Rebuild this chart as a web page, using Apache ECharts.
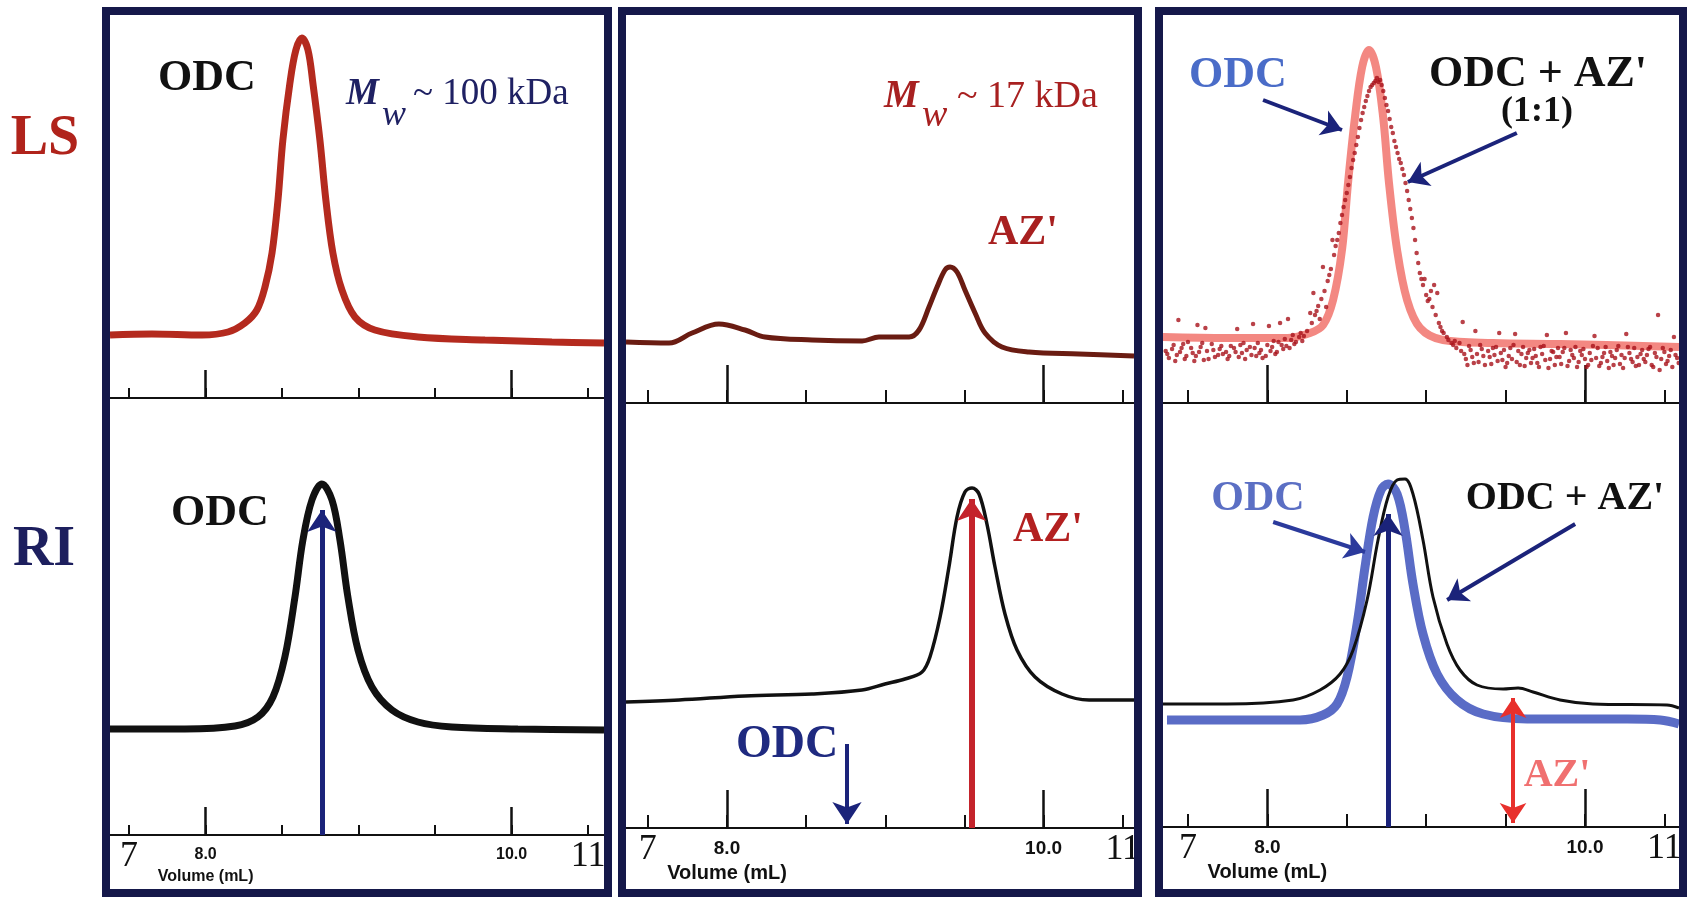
<!DOCTYPE html>
<html>
<head>
<meta charset="utf-8">
<script src="https://cdn.jsdelivr.net/npm/echarts@6/dist/echarts.min.js"></script>
<style>
html, body { margin: 0; padding: 0; background: #fff; }
#chart { width: 1687px; height: 897px; }
</style>
</head>
<body>
<div id="chart"></div>
<script>
// ---- data: elution volume (mL) vs detector signal (arb. units) ----
var ls1 = [[7.375,63],[7.649,64],[7.976,63],[8.146,66],[8.257,75],[8.335,88],[8.388,111],[8.434,145],[8.473,198],[8.505,258],[8.551,315],[8.590,348],[8.629,360],[8.669,348],[8.701,315],[8.747,258],[8.786,198],[8.832,145],[8.891,108],[8.976,81],[9.106,68],[9.388,61],[9.826,58],[10.264,56],[10.604,55]];
var ri1 = [[7.375,106],[7.865,106],[8.192,109],[8.342,118],[8.440,138],[8.518,178],[8.584,238],[8.636,295],[8.695,335],[8.760,351],[8.826,335],[8.878,295],[8.930,238],[8.996,185],[9.087,148],[9.218,125],[9.388,113],[9.610,108],[10.041,106],[10.604,105]];

var ls2 = [[7.362,61],[7.634,60],[7.779,70],[7.949,79],[8.114,73],[8.240,66],[8.537,63],[8.853,62],[8.960,66],[9.150,66],[9.213,73],[9.276,96],[9.327,116],[9.377,133],[9.409,136],[9.453,131],[9.503,113],[9.567,90],[9.630,70],[9.737,56],[9.908,51],[10.224,49],[10.571,47]];
var ri2 = [[7.362,126],[7.697,128],[8.114,132],[8.537,134],[8.853,138],[8.998,144],[9.124,149],[9.232,156],[9.282,171],[9.346,211],[9.402,261],[9.453,311],[9.503,336],[9.548,340],[9.592,334],[9.642,304],[9.693,261],[9.756,214],[9.832,178],[9.946,151],[10.116,134],[10.287,128],[10.571,128]];

var ls3odc = [[7.343,66],[7.746,65],[8.124,65],[8.269,70],[8.351,78],[8.414,103],[8.470,153],[8.508,220],[8.552,286],[8.597,336],[8.640,353],[8.684,336],[8.729,286],[8.766,220],[8.817,153],[8.880,103],[8.962,75],[9.106,63],[9.421,60],[9.843,59],[10.592,56]];
var ls3mix = [
  [7.36,52],[7.38,45],[7.41,58],[7.43,48],[7.44,83],[7.46,55],[7.48,44],[7.50,61],[7.53,50],[7.55,47],[7.56,78],[7.58,56],[7.60,43],[7.61,75],[7.62,52],[7.65,59],[7.67,46],[7.70,54],[7.72,49],[7.75,44],[7.77,57],[7.80,51],[7.81,74],[7.82,46],[7.85,60],[7.87,53],[7.90,48],[7.91,79],[7.92,55],[7.95,50],[7.97,45],[8.00,58],[8.01,77],[8.02,52],[8.05,49],[8.07,61],[8.08,80],[8.10,54],[8.12,57],[8.13,84],[8.15,63],[8.17,59],[8.20,66],[8.22,62],
  [7.37,49],[7.40,54],[7.42,42],[7.45,51],[7.47,59],[7.49,47],[7.52,55],[7.54,42],[7.57,51],[7.59,60],[7.63,44],[7.66,53],[7.69,48],[7.71,57],[7.74,51],[7.76,47],[7.79,55],[7.83,58],[7.84,50],[7.86,44],[7.89,56],[7.93,47],[7.94,60],[7.96,53],[7.99,47],[8.03,56],[8.04,62],[8.06,51],[8.09,58],[8.11,64],[8.14,55],[8.16,68],[8.18,61],[8.21,70],[8.23,67],
  [8.25,72],[8.27,90],[8.28,80],[8.29,110],[8.30,88],[8.31,92],[8.32,97],[8.33,84],[8.34,104],[8.35,136],[8.36,112],[8.37,96],[8.38,122],[8.39,128],[8.40,134],[8.41,163],[8.42,148],[8.43,157],[8.44,163],[8.45,170],[8.46,180],[8.47,188],[8.48,196],[8.49,203],[8.50,210],[8.51,218],[8.52,226],[8.53,235],[8.54,243],[8.55,250],[8.56,258],[8.57,266],[8.58,275],[8.59,283],[8.60,290],[8.61,296],[8.62,302],[8.63,307],[8.64,312],[8.65,316],[8.66,318],[8.67,320],[8.68,322],[8.69,325],[8.70,321],[8.71,323],
  [8.72,318],[8.73,312],[8.74,305],[8.75,298],[8.76,292],[8.77,284],[8.78,276],[8.79,270],[8.80,262],[8.81,256],[8.82,250],[8.83,244],[8.84,240],[8.85,234],[8.86,228],[8.87,220],[8.88,212],[8.89,203],[8.90,194],[8.91,185],[8.92,175],[8.93,163],[8.94,150],[8.95,140],[8.96,130],[8.97,124],[8.98,118],[8.99,124],[9.00,108],[9.01,102],[9.02,104],[9.03,112],[9.04,96],[9.05,118],[9.06,88],[9.07,110],[9.08,80],[9.09,76],[9.10,72],[9.11,70],[9.13,66],[9.14,63],[9.16,60],[9.17,58],[9.18,62],[9.19,55],
  [9.22,52],[9.23,81],[9.25,44],[9.27,57],[9.30,40],[9.31,72],[9.32,49],[9.35,54],[9.37,38],[9.40,46],[9.42,55],[9.45,42],[9.46,70],[9.47,50],[9.50,36],[9.52,47],[9.55,58],[9.56,69],[9.57,41],[9.60,49],[9.62,37],[9.65,53],[9.67,45],[9.70,40],[9.72,56],[9.75,43],[9.76,68],[9.77,35],[9.80,51],[9.82,46],[9.85,39],[9.87,55],[9.88,70],[9.90,42],[9.92,48],[9.95,36],[9.97,52],[10.00,44],[10.02,38],[10.05,57],[10.06,67],[10.07,45],[10.10,40],[10.12,50],[10.15,35],[10.17,47],[10.20,53],[10.22,39],[10.25,45],[10.26,69],[10.27,56],[10.30,41],[10.32,37],[10.35,49],[10.37,44],[10.40,54],[10.42,38],[10.45,46],[10.46,88],[10.47,33],[10.50,51],[10.52,42],[10.55,36],[10.56,66],[10.57,48],[10.59,40],
  [9.21,60],[9.24,49],[9.26,38],[9.28,53],[9.29,46],[9.33,41],[9.34,58],[9.36,47],[9.39,52],[9.41,39],[9.43,48],[9.44,56],[9.48,43],[9.49,53],[9.51,40],[9.53,55],[9.54,44],[9.58,52],[9.59,38],[9.61,56],[9.63,45],[9.64,50],[9.66,40],[9.68,54],[9.69,47],[9.71,36],[9.73,49],[9.74,57],[9.78,44],[9.79,52],[9.81,38],[9.83,55],[9.84,46],[9.86,51],[9.89,37],[9.91,53],[9.93,45],[9.94,56],[9.96,41],[9.98,48],[9.99,54],[10.01,36],[10.03,50],[10.04,43],[10.08,55],[10.09,37],[10.11,46],[10.13,56],[10.14,42],[10.16,51],[10.18,38],[10.19,45],[10.21,57],[10.23,48],[10.24,35],[10.28,50],[10.29,44],[10.31,55],[10.33,46],[10.34,38],[10.36,53],[10.38,41],[10.39,48],[10.41,56],[10.43,36],[10.44,50],[10.48,44],[10.49,55],[10.51,39],[10.53,47],[10.54,53],[10.58,45]
];
var ri3odc = [[7.368,107],[7.746,107],[8.206,107],[8.351,112],[8.439,123],[8.502,150],[8.565,203],[8.615,260],[8.666,310],[8.716,337],[8.760,343],[8.817,333],[8.867,297],[8.917,243],[8.980,193],[9.069,153],[9.195,127],[9.359,113],[9.636,108],[10.266,108],[10.474,107],[10.592,103]];
var ri3mix = [[7.343,123],[7.746,123],[8.162,127],[8.332,137],[8.458,153],[8.540,177],[8.628,227],[8.697,287],[8.760,330],[8.817,347],[8.867,348],[8.917,333],[8.980,287],[9.043,230],[9.131,183],[9.213,157],[9.320,142],[9.484,138],[9.579,139],[9.673,135],[9.843,127],[10.050,123],[10.516,122],[10.592,119]];

// axis ticks and labels
var minorTicks = [7.5, 8, 8.5, 9, 9.5, 10, 10.5];
var majorTicks = [8, 10];
var labelValues = [7.5, 8, 10, 10.5];
var labelTexts = ['{big|7}', '{s|8.0}\n{v|Volume (mL)}', '{s|10.0}', '{big|11}'];

// annotation arrows [from, to] in data coordinates
var odcPeak = 8.76;
var azPeak = 9.547;
var arrowP1 = [[odcPeak, 0], [odcPeak, 325]];
var arrowP2az = [[9.545, 0], [9.545, 329]];
var arrowP2odc = [[8.758, 84], [8.758, 4]];
var arrowP3lsOdc = [[7.973, 303], [8.470, 273]];
var arrowP3lsMix = [[9.571, 270], [8.885, 221]];
var arrowP3riPeak = [[odcPeak, 0], [odcPeak, 313]];
var arrowP3riOdc = [[8.037, 305], [8.615, 275]];
var arrowP3riMix = [[9.938, 303], [9.132, 227]];
var arrowP3riAz = [[azPeak, 4], [azPeak, 129]];

// ---- layout ----
var panels = [
  { left: 110, width: 494, lsH: 383, riH: 437, min: 7.375, max: 10.604, minorLen: 10, majorLen: 28, small: 16, vol: 16, volLH: 14, l1: 31 },
  { left: 626, width: 508, lsH: 388, riH: 425, min: 7.362, max: 10.571, minorLen: 13, majorLen: 38, small: 19, vol: 20, volLH: 14, l1: 34 },
  { left: 1163, width: 516, lsH: 388, riH: 424, min: 7.343, max: 10.592, minorLen: 13, majorLen: 38, small: 19, vol: 20, volLH: 14, l1: 34 }
];
var TOP = 15;
var NAVY = '#15184a';

var grids = [], xAxes = [], yAxes = [];
panels.forEach(function (p) {
  [['ls', TOP, p.lsH], ['ri', TOP + p.lsH, p.riH]].forEach(function (g) {
    var gi = grids.length;
    grids.push({ left: p.left, top: g[1], width: p.width, height: g[2] });
    xAxes.push({
      type: 'value', gridIndex: gi, min: p.min, max: p.max, position: 'bottom',
      axisLine: { show: true, onZero: false, lineStyle: { color: '#111', width: 2 } },
      axisTick: { show: true, inside: true, length: p.minorLen, customValues: minorTicks, lineStyle: { color: '#111', width: 2 } },
      axisLabel: {
        show: g[0] === 'ri', customValues: labelValues, margin: 4,
        formatter: function (v) {
          var i = labelValues.indexOf(Math.round(v * 10) / 10);
          return i < 0 ? '' : labelTexts[i];
        },
        rich: {
          big: { fontFamily: 'Liberation Serif', fontSize: 36, lineHeight: 36, color: '#111' },
          s: { fontFamily: 'Liberation Sans', fontWeight: 'bold', fontSize: p.small, lineHeight: p.l1, color: '#111' },
          v: { fontFamily: 'Liberation Sans', fontWeight: 'bold', fontSize: p.vol, lineHeight: p.volLH, color: '#111' }
        }
      },
      splitLine: { show: false }
    });
    xAxes.push({
      type: 'value', gridIndex: gi, min: p.min, max: p.max, position: 'bottom',
      axisLine: { show: false },
      axisTick: { show: true, inside: true, length: p.majorLen, customValues: majorTicks, lineStyle: { color: '#111', width: 2.5 } },
      axisLabel: { show: false },
      splitLine: { show: false }
    });
    yAxes.push({ type: 'value', gridIndex: gi, min: 0, max: g[2], show: false });
  });
});

function arrow(pts, color, width, size, both) {
  return [
    { coord: pts[0], symbol: both ? 'arrow' : 'none', symbolSize: size, lineStyle: { color: color, width: width, type: 'solid' } },
    { coord: pts[1], symbol: 'arrow', symbolSize: size }
  ];
}

function curve(data, gi, color, width, arrows, extra) {
  var s = {
    type: 'line', data: data, xAxisIndex: gi * 2, yAxisIndex: gi,
    smooth: 0.35, symbol: 'none', silent: true,
    lineStyle: { color: color, width: width },
    z: 3
  };
  if (arrows) {
    s.markLine = { silent: true, animation: false, label: { show: false }, z: 6, data: arrows };
  }
  for (var k in extra) s[k] = extra[k];
  return s;
}

var series = [
  curve(ls1, 0, '#b42a1e', 7),
  curve(ri1, 1, '#111', 7, [arrow(arrowP1, '#1b237a', 5, 22)]),
  curve(ls2, 2, '#6a1c12', 5),
  curve(ri2, 3, '#111', 3.5, [arrow(arrowP2az, '#c4232b', 6, 22), arrow(arrowP2odc, '#1b237a', 4, 22)]),
  curve(ls3odc, 4, '#f27b74', 8, [arrow(arrowP3lsOdc, '#1b237a', 4, 20), arrow(arrowP3lsMix, '#1b237a', 4, 20)], { lineStyle: { color: '#f27b74', width: 8, opacity: 0.9 } }),
  {
    type: 'scatter', data: ls3mix, xAxisIndex: 8, yAxisIndex: 4,
    symbolSize: 4.5, silent: true, itemStyle: { color: '#a8121a' }, z: 4
  },
  curve(ri3odc, 5, '#5a6cc6', 9, [arrow(arrowP3riPeak, '#1b237a', 5, 22), arrow(arrowP3riOdc, '#2b3a9c', 4, 20), arrow(arrowP3riMix, '#1b237a', 4, 20), arrow(arrowP3riAz, '#e8302c', 4, 20, true)]),
  curve(ri3mix, 5, '#111', 3)
];

// ---- text annotations and panel frames ----
function txt(text, x, y, font, color, align) {
  return {
    type: 'text', z: 50, silent: true,
    style: { text: text, x: x, y: y, font: font, fill: color, align: align || 'center', verticalAlign: 'middle', textAlign: align || 'center', textVerticalAlign: 'middle' }
  };
}
var SERIF = '"Liberation Serif"';
var graphics = [
  { type: 'rect', z: 100, silent: true, shape: { x: 106, y: 11, width: 502, height: 882 }, style: { fill: 'none', stroke: NAVY, lineWidth: 8 } },
  { type: 'rect', z: 100, silent: true, shape: { x: 622, y: 11, width: 516, height: 882 }, style: { fill: 'none', stroke: NAVY, lineWidth: 8 } },
  { type: 'rect', z: 100, silent: true, shape: { x: 1159, y: 11, width: 524, height: 882 }, style: { fill: 'none', stroke: NAVY, lineWidth: 8 } },
  txt('LS', 45, 140, 'bold 56px ' + SERIF, '#b0231b'),
  txt('RI', 44, 551, 'bold 56px ' + SERIF, '#1d1f5e'),
  txt('ODC', 207, 79, 'bold 44px ' + SERIF, '#111'),
  txt('M', 346, 94, 'italic bold 37px ' + SERIF, '#1f2163', 'left'),
  txt('w', 382, 116, 'italic 36px ' + SERIF, '#1f2163', 'left'),
  txt('~ 100 kDa', 413, 94, '37px ' + SERIF, '#1f2163', 'left'),
  txt('ODC', 220, 514, 'bold 44px ' + SERIF, '#111'),
  txt('M', 884, 97, 'italic bold 39px ' + SERIF, '#a82020', 'left'),
  txt('w', 922, 116, 'italic 38px ' + SERIF, '#a82020', 'left'),
  txt('~ 17 kDa', 957, 97, '38px ' + SERIF, '#a82020', 'left'),
  txt("AZ'", 1023, 233, 'bold 42px ' + SERIF, '#a82020'),
  txt("AZ'", 1048, 530, 'bold 42px ' + SERIF, '#b32020'),
  txt('ODC', 787, 745, 'bold 46px ' + SERIF, '#1f2a80'),
  txt('ODC', 1238, 76, 'bold 44px ' + SERIF, '#4a6cc8'),
  txt("ODC + AZ'", 1538, 75, 'bold 44px ' + SERIF, '#111'),
  txt('(1:1)', 1537, 112, 'bold 36px ' + SERIF, '#111'),
  txt('ODC', 1258, 499, 'bold 42px ' + SERIF, '#5b6fc4'),
  txt("ODC + AZ'", 1565, 499, 'bold 40px ' + SERIF, '#111'),
  txt("AZ'", 1557, 776, 'bold 40px ' + SERIF, '#f07070')
];

var chart = echarts.init(document.getElementById('chart'));
chart.setOption({
  animation: false,
  backgroundColor: '#fff',
  grid: grids,
  xAxis: xAxes,
  yAxis: yAxes,
  series: series,
  graphic: graphics
});
</script>
</body>
</html>
